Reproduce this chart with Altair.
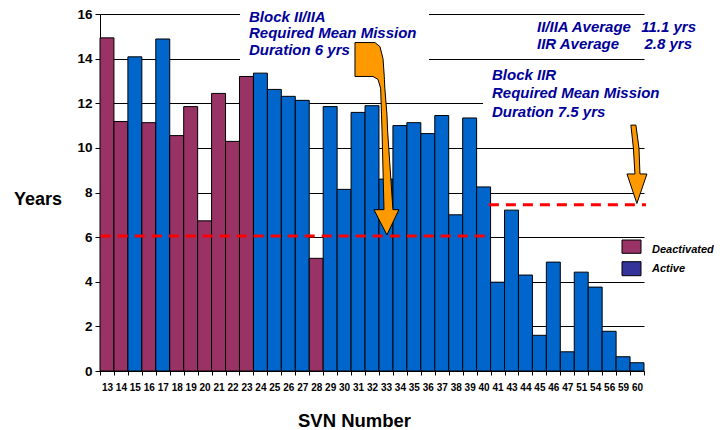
import altair as alt
import pandas as pd

# ---------------- data ----------------
svn = ["13", "14", "15", "16", "17", "18", "19", "20", "21", "22", "23", "24", "25",
       "26", "27", "28", "29", "30", "31", "32", "33", "34", "35", "36", "37", "38",
       "39", "40", "41", "43", "44", "45", "46", "47", "51", "54", "56", "59", "60"]
years = [14.93, 11.18, 14.08, 11.13, 14.88, 10.55, 11.85, 6.73, 12.44, 10.29, 13.2, 13.35, 12.62,
         12.31, 12.13, 5.05, 11.85, 8.14, 11.59, 11.89, 8.6, 11.0, 11.13, 10.64, 11.45, 7.0,
         11.34, 8.25, 3.98, 7.21, 4.3, 1.6, 4.88, 0.86, 4.43, 3.76, 1.78, 0.64, 0.37]
D, A = "Deactivated", "Active"
status = [D, D, A, D, A, D, D, D, D, D, D, A, A,
          A, A, D, A, A, A, A, A, A, A, A, A, A,
          A, A, A, A, A, A, A, A, A, A, A, A, A]
legend_labels = [D, A]

y_ticks = [0, 2, 4, 6, 8, 10, 12, 14, 16]

block1_text = ["Block II/IIA", "Required Mean Mission", "Duration 6 yrs"]
block2_text = ["Block IIR", "Required Mean Mission", "Duration 7.5 yrs"]
avg_labels = ["II/IIA Average", "IIR Average"]
avg_values = ["11.1 yrs", "2.8 yrs"]

# required mean mission duration lines: level (years) and extent (in bar units)
req_years = [6.05, 7.45]
req_from = [0.05, 27.88]
req_to = [27.6, 39.14]

# orange arrows, outline from tip (bottom) to tail (top), in bar units / years
arrow1_y = [6.1, 7.23, 7.231, 10.75, 11.51, 12.67, 13.07, 13.2, 13.201, 14.0, 14.54, 14.72]
arrow1_left = [20.57, 19.64, 20.36, 20.22, 20.18, 20.12, 19.93, 19.57, 18.28, 18.28, 18.28, 18.28]
arrow1_right = [20.57, 21.43, 21.0, 20.62, 20.57, 20.42, 20.39, 20.38, 20.38, 20.29, 20.07, 19.71]
arrow2_y = [7.51, 8.83, 8.831, 9.99, 11.02]
arrow2_left = [38.49, 37.78, 38.35, 38.24, 38.06]
arrow2_right = [38.49, 39.21, 38.71, 38.64, 38.42]

# ---------------- styling ----------------
FONT = "Liberation Sans, Arial, sans-serif"
DEACT = "#993366"
ACTIVE = "#0066CC"
LEG_DEACT = "#993366"
LEG_ACTIVE = "#333399"
NAVY = "#000099"
ORANGE = "#FF9900"
W, H = 544, 357

bars_df = pd.DataFrame({"svn": svn, "years": years, "status": status})
one = pd.DataFrame({"k": [0]})
pos_scale = alt.Scale(domain=[0, 39], nice=False, zero=False)
y_scale = alt.Scale(domain=[0, 16], nice=False)

y_axis = alt.Axis(values=y_ticks, grid=True, gridColor="black", gridWidth=1,
                  gridOpacity=1, title="Years", titleAngle=0, titleX=-62.5, titleY=185,
                  titleAlign="center", titleBaseline="middle", titleFont=FONT,
                  titleFontSize=18, titleFontWeight="bold", titleColor="black",
                  tickSize=5, labelPadding=3, labelFont=FONT, labelFontSize=13.5,
                  labelFontWeight="bold", labelColor="black",
                  domainColor="black", tickColor="black")

bars = alt.Chart(bars_df).mark_bar(stroke="black", strokeWidth=1).encode(
    x=alt.X("svn:N", sort=svn,
            scale=alt.Scale(paddingInner=0, paddingOuter=0),
            axis=alt.Axis(title="SVN Number", labelAngle=0, tickBand="extent", tickSize=4,
                          labelPadding=7, labelOverlap=False, labelFont=FONT, labelFontSize=10,
                          labelFontWeight="bold", labelColor="black",
                          titleFont=FONT, titleFontSize=18.5, titleFontWeight="bold",
                          titleColor="black", titleX=254, titleY=49, titleAlign="center",
                          titleBaseline="middle", domainColor="black", tickColor="black",
                          grid=False)),
    y=alt.Y("years:Q", scale=y_scale, axis=y_axis),
    color=alt.Color("status:N", scale=alt.Scale(domain=legend_labels, range=[DEACT, ACTIVE]),
                    legend=None),
)

req_df = pd.DataFrame({"years": req_years, "x0": req_from, "x1": req_to})
req_lines = alt.Chart(req_df).mark_rule(color="#FF0000", strokeWidth=3, strokeDash=[10, 7]).encode(
    x=alt.X("x0:Q", scale=pos_scale, axis=None),
    x2="x1:Q",
    y=alt.Y("years:Q", scale=y_scale, axis=y_axis),
)


def arrow(ys, xl, xr):
    df = pd.DataFrame({"years": ys, "xl": xl, "xr": xr})
    return alt.Chart(df).mark_area(orient="horizontal", fill=ORANGE, stroke="black",
                                   strokeWidth=1, interpolate="linear", opacity=1).encode(
        y=alt.Y("years:Q", scale=y_scale, axis=y_axis),
        x=alt.X("xl:Q", scale=pos_scale, axis=None, stack=None),
        x2="xr:Q",
    )


def box(x0, x1, y0, y1, fill="white", stroke=None):
    kw = dict(color=fill, fill=fill)
    if stroke:
        kw.update(stroke=stroke, strokeWidth=1)
    else:
        kw.update(strokeWidth=0)
    return alt.Chart(one).mark_rect(**kw).encode(
        x=alt.value(x0), x2=alt.value(x1), y=alt.value(y0), y2=alt.value(y1))


def label(text, x, y, size, color=NAVY, align="left", style="italic", lh=18):
    return alt.Chart(one).mark_text(align=align, baseline="alphabetic", font=FONT,
                                    fontSize=size, fontWeight="bold", fontStyle=style,
                                    color=color, lineHeight=lh).encode(
        x=alt.value(x), y=alt.value(y), text=alt.value(text))


layers = [
    box(140, 329, -7, 50),
    box(383, 546, 48, 111),
    bars,
    req_lines,
    arrow(arrow1_y, arrow1_left, arrow1_right),
    arrow(arrow2_y, arrow2_left, arrow2_right),
    label(block1_text, 149, 7.5, 15, lh=16.5),
    label(block2_text, 392, 66, 15, lh=18.3),
    label(avg_labels, 437, 17.7, 15, lh=17.6),
    label(avg_values[0], 596, 17.7, 15, align="right"),
    label(avg_values[1], 592, 35.3, 15, align="right"),
    box(522, 541, 226, 239.3, fill=LEG_DEACT, stroke="black"),
    box(522, 541, 247.7, 261.7, fill=LEG_ACTIVE, stroke="black"),
    label(legend_labels[0], 552, 239.3, 11, color="black"),
    label(legend_labels[1], 552, 258.3, 11, color="black"),
]

chart = alt.layer(*layers).resolve_scale(x="independent").properties(
    width=W, height=H,
    padding={"left": 92, "top": 6, "right": 70, "bottom": 58},
    autosize=alt.AutoSizeParams(type="none"),
    background="white",
).configure_view(stroke=None)

chart.save("out.html", embed_options={"renderer": "svg", "actions": False})
